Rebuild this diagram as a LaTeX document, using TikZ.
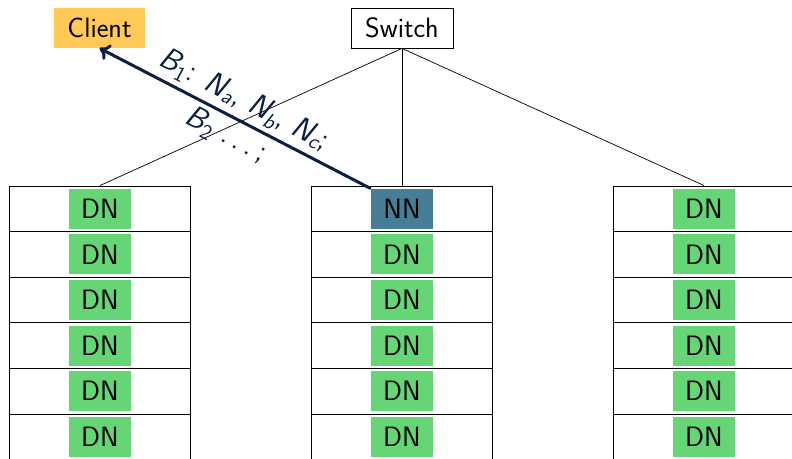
\documentclass[tikz,border=0pt]{standalone}
\usetikzlibrary{arrows.meta}
\definecolor{clientorange}{HTML}{FFC857}
\definecolor{nodegreen}{HTML}{66D575}
\definecolor{nameteal}{HTML}{467E98}
\definecolor{pathnavy}{HTML}{0B1F45}
% italic sans symbol with a subscript, e.g. \symb{N}{\itshape a}
\newcommand\symb[2]{{\itshape #1}\textsubscript{#2}}
\tikzset{
  label font/.style={font=\fontsize{28}{34}\selectfont\sffamily},
  headbox/.style={draw, line width=0.8pt, minimum width=102pt, minimum height=40pt, inner sep=0pt},
  clientbox/.style={fill=clientorange, minimum width=91pt, minimum height=40pt, inner sep=0pt},
  rowcell/.style={draw, line width=0.9pt, minimum width=181pt, minimum height=45.6pt, inner sep=0pt},
  dnbox/.style={fill=nodegreen, minimum width=62pt, minimum height=40pt, inner sep=0pt},
  nnbox/.style={dnbox, fill=nameteal},
  uplink/.style={draw, line width=0.7pt},
  readpath/.style={draw=pathnavy, line width=3pt, -{To[length=10pt,width=17pt]}},
  pathlabel/.style={text=pathnavy, sloped, inner sep=4pt, font=\fontsize{31}{36}\selectfont\sffamily},
}
\begin{document}
\begin{tikzpicture}[x=1pt, y=-1pt, label font]
  \useasboundingbox (0,0) rectangle (792,458);
  \clip (0,0) rectangle (792,458);

  % top row: client and switch
  \node[clientbox] (client) at (99.5,28) {Client};
  \node[headbox] (switch) at (402,28) {Switch};

  % three racks of six slots each
  \foreach \k/\cx in {1/100, 2/402, 3/704} {
    \foreach \i in {0,...,5} {
      \node[rowcell] (rack\k-\i) at (\cx, {208.8 + 45.6*\i}) {};
    }
  }
  \foreach \k in {1,3} {
    \foreach \i in {0,...,5} {
      \node[dnbox] (dn\k-\i) at (rack\k-\i.center) {DN};
    }
  }
  \node[nnbox] (nn) at (rack2-0.center) {NN};
  \foreach \i in {1,...,5} {
    \node[dnbox] (dn2-\i) at (rack2-\i.center) {DN};
  }

  % switch uplinks to the racks
  \foreach \k in {1,2,3} {
    \path[uplink] (switch.south) -- (rack\k-0.north);
  }

  % block locations returned to the client
  \path[readpath] (nn.north west) --
    node[pathlabel, above] {\symb{B}{1}: \symb{N}{\itshape a}, \symb{N}{\itshape b}, \symb{N}{\itshape c};}
    node[pathlabel, below] {\symb{B}{2} .\,.\,.\,;}
    (client.south);
\end{tikzpicture}
\end{document}
